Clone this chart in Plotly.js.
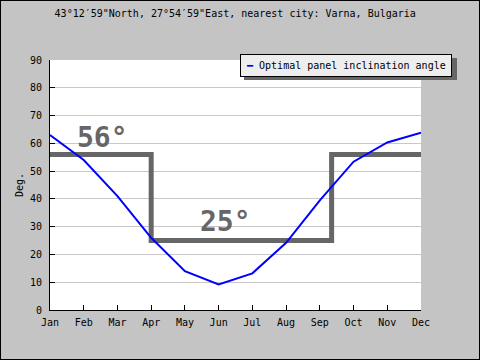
<!DOCTYPE html>
<html>
<head>
<meta charset="utf-8">
<script src="https://cdn.plot.ly/plotly-3.0.1.min.js"></script>
<style>
html,body{margin:0;padding:0;background:#c4c4c4;}
#chart{width:478px;height:358px;border:1px solid #000;}
</style>
</head>
<body>
<div id="chart"></div>
<script>
const months = ["Jan","Feb","Mar","Apr","May","Jun","Jul","Aug","Sep","Oct","Nov","Dec"];
const monthIndex = [0,1,2,3,4,5,6,7,8,9,10,11];
const optimalAngle = [63, 54, 41, 26, 14, 9.2, 13.2, 24.2, 39.5, 53.4, 60.3, 63.8];
// Seasonal fixed angles: winter 56°, summer 25°; switching Apr and ~10 Sep
const seasonX = [0, 3, 3, 8.35, 8.35, 11];
const seasonY = [56, 56, 25, 25, 56, 56];
const winterAngle = 56;
const summerAngle = 25;
const seriesName = "Optimal panel inclination angle";

const mono = "DejaVu Sans Mono, monospace";
const legendText = '<span style="color:#0000ff">━</span> ' + seriesName;

const W = 478, H = 358, ML = 49, MR = 58, MT = 59, MB = 49;
const PW = W - ML - MR, PH = H - MT - MB;
const px2x = p => (p - ML) / PW;
const py2y = p => (H - MB - p) / PH;

const traces = [
  {
    x: seasonX, y: seasonY, type: "scatter", mode: "lines",
    line: {color: "#666666", width: 5},
    showlegend: false, hoverinfo: "skip"
  },
  {
    x: monthIndex, y: optimalAngle, type: "scatter", mode: "lines",
    name: seriesName,
    line: {color: "#0000ff", width: 2},
    showlegend: false
  }
];

const layout = {
  width: W, height: H,
  margin: {l: ML, r: MR, t: MT, b: MB, autoexpand: false},
  paper_bgcolor: "#c4c4c4",
  plot_bgcolor: "#ffffff",
  font: {family: mono, size: 10, color: "#000"},
  title: {
    text: '43°12′59"North, 27°54′59"East, nearest city: Varna, Bulgaria',
    font: {family: mono, size: 10, color: "#000"},
    x: 0.49, xanchor: "center",
    y: 1 - 12/358, yref: "container", yanchor: "middle"
  },
  xaxis: {
    range: [0, 11],
    tickvals: monthIndex, ticktext: months,
    showgrid: false, zeroline: false,
    showline: true, linecolor: "#000", linewidth: 1,
    ticks: "inside", ticklen: 5, tickcolor: "#000",
    ticklabelstandoff: 3,
    automargin: false,
    fixedrange: true
  },
  yaxis: {
    range: [0, 90], dtick: 10,
    showgrid: true, gridcolor: "#c8c8c8", gridwidth: 1,
    zeroline: false,
    showline: true, linecolor: "#000", linewidth: 1,
    ticks: "inside", ticklen: 5, tickcolor: "#000",
    ticklabelstandoff: 5,
    automargin: false,
    title: {text: "Deg.", font: {family: mono, size: 10}, standoff: 4},
    fixedrange: true
  },
  showlegend: false,
  shapes: [
    // legend drop shadow
    {type: "rect", xref: "paper", yref: "paper", layer: "above",
     x0: px2x(243), x1: px2x(456), y0: py2y(57), y1: py2y(79),
     fillcolor: "#666666", line: {width: 0}}
  ],
  annotations: [
    {x: 1.57, y: 62.2, xref: "x", yref: "y", text: winterAngle + "°",
     showarrow: false, font: {family: mono, size: 28, color: "#666666", weight: "bold"}},
    {x: 5.19, y: 32, xref: "x", yref: "y", text: summerAngle + "°",
     showarrow: false, font: {family: mono, size: 28, color: "#666666", weight: "bold"}},
    // legend box
    {x: px2x(239), y: py2y(53), xref: "paper", yref: "paper",
     xanchor: "left", yanchor: "top", showarrow: false,
     text: legendText,
     font: {family: mono, size: 10, color: "#000"},
     bgcolor: "#eeeeee", bordercolor: "#000", borderwidth: 1, borderpad: 5}
  ]
};

Plotly.newPlot("chart", traces, layout, {displayModeBar: false, staticPlot: true});
</script>
</body>
</html>
